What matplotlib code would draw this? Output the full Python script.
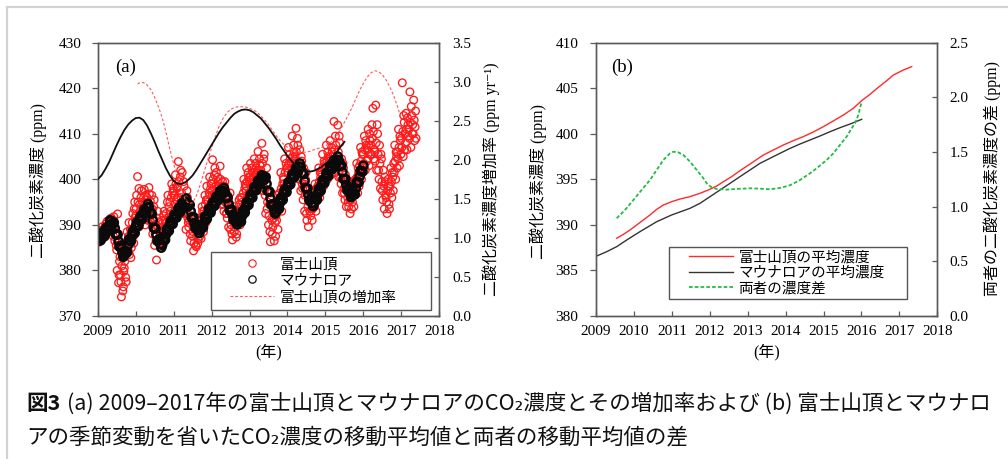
import numpy as np
import matplotlib
matplotlib.use("Agg")
import matplotlib.pyplot as plt
from matplotlib.lines import Line2D
from matplotlib.patches import Rectangle
from matplotlib.ticker import FormatStrFormatter

W, H = 1008, 459

SERIF = ["Liberation Serif", "Noto Sans CJK JP", "DejaVu Sans"]
SANS = ["Noto Sans CJK JP", "DejaVu Sans"]
plt.rcParams["font.family"] = SERIF

# ---------------------------------------------------------------- data
years = list(range(2009, 2019))

# Mt. Fuji summit CO2 (ppm): four samples per tenth of a year from 2009.0
fuji_2009 = [387.5, 386.2, 388.8, 387.0, 388.0, 389.6, 387.2, 388.9,
             389.5, 388.3, 390.8, 389.0, 390.2, 388.6, 391.5, 389.4,
             389.0, 391.8, 386.5, 388.2, 384.5, 392.4, 377.3, 382.0,
             379.0, 374.2, 383.5, 376.4, 380.5, 385.0, 377.5, 388.5,
             384.5, 390.5, 386.2, 382.8, 389.0, 392.5, 386.0, 395.0]
fuji_2010 = [392.0, 396.5, 400.6, 389.5, 394.5, 390.5, 397.5, 392.8,
             393.5, 397.8, 390.0, 395.5, 396.0, 391.0, 398.2, 393.8,
             392.5, 396.5, 388.0, 394.0, 385.5, 390.0, 382.3, 393.0,
             387.0, 390.5, 385.0, 388.5, 389.5, 386.0, 393.0, 391.0,
             392.5, 388.5, 396.5, 394.0, 395.0, 391.0, 399.0, 397.0]
fuji_2011 = [397.5, 393.0, 401.0, 395.5, 398.5, 403.9, 394.5, 400.5,
             396.0, 401.5, 392.5, 398.5, 393.5, 389.0, 397.5, 391.5,
             389.5, 394.5, 386.5, 392.0, 387.5, 384.3, 391.0, 389.0,
             385.2, 389.5, 386.8, 391.5, 390.0, 387.0, 394.0, 392.0,
             393.0, 396.5, 390.5, 398.5, 395.5, 392.5, 400.5, 398.0]
fuji_2012 = [399.0, 404.3, 395.0, 401.0, 397.0, 401.5, 395.0, 399.5,
             398.5, 402.9, 394.5, 396.5, 396.0, 393.0, 399.5, 397.5,
             392.5, 396.5, 389.5, 394.5, 389.0, 393.0, 386.7, 391.0,
             388.5, 392.0, 387.3, 390.5, 391.0, 395.5, 390.0, 393.5,
             396.0, 393.0, 400.0, 398.0, 398.5, 402.5, 396.0, 400.5]
fuji_2013 = [399.5, 403.5, 397.5, 401.5, 400.5, 404.5, 398.0, 402.5,
             401.5, 406.1, 398.5, 403.0, 402.0, 407.9, 397.5, 404.5,
             398.0, 392.5, 402.5, 395.0, 390.0, 394.5, 386.3, 397.0,
             388.0, 393.0, 386.5, 390.5, 392.0, 396.5, 389.0, 394.0,
             396.0, 401.5, 393.0, 399.0, 400.0, 404.5, 397.0, 402.5]
fuji_2014 = [402.5, 407.0, 399.5, 404.5, 403.5, 409.5, 400.5, 406.0,
             405.0, 411.2, 401.0, 407.5, 402.0, 406.5, 397.5, 404.0,
             398.0, 402.5, 393.0, 400.0, 392.5, 397.5, 389.6, 395.0,
             393.0, 396.5, 391.0, 394.5, 395.0, 399.0, 393.0, 397.0,
             398.5, 402.5, 396.0, 400.5, 401.5, 405.5, 398.5, 403.5]
fuji_2015 = [403.0, 407.5, 400.0, 405.0, 404.0, 408.5, 401.0, 406.0,
             405.0, 412.7, 401.5, 407.5, 404.5, 411.9, 400.5, 408.0,
             400.5, 404.5, 397.0, 402.5, 397.0, 401.0, 394.0, 399.5,
             395.0, 398.5, 392.5, 396.5, 396.0, 399.5, 394.0, 397.5,
             399.5, 403.5, 397.0, 401.5, 403.0, 407.0, 400.0, 405.5]
fuji_2016 = [405.5, 409.5, 402.0, 407.5, 406.5, 411.0, 403.0, 408.5,
             407.5, 412.0, 415.6, 404.5, 406.0, 416.3, 402.0, 410.0,
             402.0, 407.5, 398.0, 404.5, 397.5, 402.0, 393.5, 399.5,
             396.0, 392.5, 400.0, 394.5, 398.5, 402.5, 396.0, 400.5,
             403.5, 407.5, 400.0, 405.0, 406.0, 411.0, 403.0, 408.5]
fuji_2017 = [409.0, 421.2, 405.0, 412.5, 410.0, 414.5, 406.5, 412.0,
             411.0, 419.2, 407.0, 414.0, 412.0, 417.4, 408.5, 415.0]
fuji_co2 = (fuji_2009 + fuji_2010 + fuji_2011 + fuji_2012 + fuji_2013
            + fuji_2014 + fuji_2015 + fuji_2016 + fuji_2017)
fuji_time = 2009.0 + 0.025 * np.arange(len(fuji_co2))

# Mt. Fuji summit CO2 (ppm), interleaved samples (offset by half a step)
fuji_mid_2009 = [386.8, 388.2, 387.6, 388.6, 388.6, 387.6, 389.2, 388.2,
                 390.2, 389.0, 389.8, 388.6, 389.8, 390.8, 388.9, 390.4,
                 387.5, 390.5, 389.5, 385.5, 380.0, 386.0, 379.0, 383.0,
                 377.5, 381.0, 375.5, 379.8, 382.0, 378.5, 383.8, 386.5,
                 387.5, 383.5, 389.0, 385.0, 390.5, 387.5, 393.5, 391.5]
fuji_mid_2010 = [393.5, 391.0, 395.0, 398.0, 393.0, 396.0, 391.5, 395.0,
                 392.0, 394.8, 396.5, 391.5, 394.5, 392.0, 396.8, 395.2,
                 390.5, 393.5, 391.5, 395.5, 388.0, 386.5, 391.5, 389.5,
                 386.0, 389.5, 387.5, 391.0, 388.0, 392.0, 387.0, 390.5,
                 390.5, 395.0, 391.5, 389.5, 393.0, 396.0, 392.0, 398.0]
fuji_mid_2011 = [396.5, 394.5, 399.0, 398.0, 396.0, 399.5, 397.0, 402.0,
                 397.0, 394.0, 399.5, 395.5, 395.0, 392.5, 396.0, 390.5,
                 391.0, 388.0, 393.0, 390.5, 388.5, 386.0, 390.0, 385.5,
                 388.0, 386.0, 390.0, 387.5, 389.0, 391.0, 393.0, 388.5,
                 392.0, 394.5, 395.5, 391.5, 394.0, 397.0, 396.5, 399.0]
fuji_mid_2012 = [397.5, 400.0, 396.5, 402.5, 398.5, 396.0, 400.5, 398.0,
                 397.5, 400.0, 395.5, 399.5, 394.5, 398.5, 395.0, 392.5,
                 391.5, 395.5, 393.5, 397.0, 390.0, 388.0, 392.0, 394.0,
                 389.5, 391.0, 388.0, 393.0, 392.5, 394.5, 396.0, 391.5,
                 395.0, 397.0, 394.0, 399.0, 397.5, 399.5, 401.5, 397.0]
fuji_mid_2013 = [400.5, 398.5, 402.5, 400.0, 401.5, 399.5, 403.5, 401.0,
                 402.0, 400.0, 404.5, 399.5, 400.5, 403.5, 399.5, 405.5,
                 396.5, 400.0, 393.5, 397.5, 392.0, 388.5, 395.5, 391.0,
                 389.5, 391.5, 394.5, 387.5, 391.0, 393.0, 395.0, 397.0,
                 395.0, 398.0, 397.0, 400.5, 399.0, 401.5, 403.5, 398.5]
fuji_mid_2014 = [401.5, 403.5, 405.5, 400.5, 402.5, 405.0, 407.5, 404.0,
                 403.5, 406.0, 409.0, 402.5, 400.0, 403.0, 405.0, 399.0,
                 395.5, 399.0, 396.5, 401.5, 391.0, 394.0, 396.5, 393.0,
                 392.0, 395.5, 393.5, 397.0, 394.0, 396.0, 398.0, 395.5,
                 397.0, 399.5, 401.5, 397.5, 400.0, 402.5, 404.0, 399.5]
fuji_mid_2015 = [401.5, 404.0, 406.0, 402.5, 402.5, 405.0, 407.0, 403.5,
                 403.5, 406.5, 409.5, 404.5, 402.5, 406.0, 409.5, 403.0,
                 399.0, 401.5, 403.5, 398.0, 395.5, 398.0, 400.0, 396.0,
                 394.0, 397.5, 395.5, 393.5, 395.0, 398.5, 396.5, 400.0,
                 398.0, 400.5, 402.5, 398.5, 401.5, 404.0, 406.0, 402.0]
fuji_mid_2016 = [403.5, 406.5, 408.5, 404.0, 404.5, 407.5, 410.0, 405.5,
                 405.5, 409.0, 410.5, 406.5, 404.0, 408.0, 412.0, 405.5,
                 400.0, 403.5, 405.5, 399.5, 395.5, 398.5, 400.5, 396.5,
                 395.0, 397.5, 398.5, 393.5, 397.0, 399.5, 401.5, 397.5,
                 401.5, 404.0, 406.0, 402.5, 404.5, 407.0, 409.5, 405.5]
fuji_mid_2017 = [407.0, 410.5, 414.0, 406.5, 408.0, 411.0, 413.5, 409.5,
                 409.0, 412.5, 416.0, 410.0, 410.0, 413.0, 411.5, 409.0]
fuji_mid_co2 = (fuji_mid_2009 + fuji_mid_2010 + fuji_mid_2011
                + fuji_mid_2012 + fuji_mid_2013 + fuji_mid_2014
                + fuji_mid_2015 + fuji_mid_2016 + fuji_mid_2017)
fuji_mid_time = 2009.0125 + 0.025 * np.arange(len(fuji_mid_co2))

# Mauna Loa CO2 (ppm): one sample every 0.05 year from 2009.0
mlo_co2 = [
    386.5, 387.6, 387.0, 388.4, 388.0, 389.4, 389.8, 390.9, 390.4, 389.2,
    388.0, 386.4, 385.4, 384.0, 383.4, 383.8, 385.6, 386.6, 387.6, 388.3,
    389.6, 389.9, 391.0, 391.4, 392.6, 392.8, 393.8, 393.9, 392.6, 391.0,
    389.2, 387.8, 386.6, 385.8, 385.6, 386.8, 387.9, 388.8, 390.0, 390.4,
    391.3, 391.8, 392.8, 393.1, 393.9, 394.3, 395.0, 395.1, 394.4, 393.0,
    391.6, 390.4, 389.6, 389.0, 388.8, 389.6, 390.6, 391.6, 392.3, 393.2,
    393.6, 394.7, 395.0, 396.0, 396.3, 397.2, 397.5, 397.2, 396.0, 394.6,
    393.2, 392.2, 391.4, 390.9, 390.6, 390.8, 391.9, 392.8, 393.9, 394.6,
    395.6, 396.2, 397.3, 397.8, 398.8, 399.2, 400.0, 400.4, 400.5, 399.0,
    397.4, 395.8, 394.4, 393.4, 392.9, 393.6, 394.8, 395.6, 396.8, 397.4,
    398.4, 399.0, 400.1, 400.6, 401.6, 402.0, 402.8, 402.7, 401.4, 399.6,
    398.0, 396.6, 395.5, 394.8, 394.7, 395.6, 396.8, 397.6, 398.8, 399.4,
    400.4, 400.9, 401.9, 402.4, 403.3, 403.6, 404.3, 404.2, 403.0, 401.6,
    400.0, 398.8, 397.8, 397.0, 396.6, 396.8, 398.0, 399.4, 400.6, 401.8,
    403.0]
mlo_time = 2009.0 + 0.05 * np.arange(len(mlo_co2))

# Mauna Loa CO2 (ppm), interleaved samples at 2009.025 + 0.05 k
mlo_mid_co2 = [
    387.8, 386.6, 388.4, 387.5, 389.4, 388.9, 391.0, 390.0, 390.5, 387.9,
    387.9, 385.2, 385.4, 383.0, 384.3, 384.0, 386.8, 386.4, 388.6, 388.2,
    390.5, 389.8, 391.9, 391.3, 393.4, 392.6, 394.6, 392.6, 392.5, 389.4,
    389.2, 386.5, 386.9, 385.0, 386.9, 386.7, 389.1, 388.7, 390.9, 390.2,
    392.3, 391.6, 393.7, 392.8, 394.8, 394.0, 395.8, 394.0, 394.4, 391.6,
    391.7, 389.3, 390.0, 388.2, 389.9, 389.4, 391.8, 391.3, 393.5, 392.7,
    394.9, 394.2, 396.2, 395.5, 397.5, 396.7, 398.1, 395.9, 396.0, 393.2,
    393.4, 391.1, 391.9, 390.1, 391.4, 390.7, 393.1, 392.7, 395.0, 394.4,
    396.6, 396.0, 398.3, 397.6, 399.7, 398.9, 400.9, 399.8, 400.5, 397.5,
    397.3, 394.4, 394.6, 392.5, 394.0, 393.5, 395.9, 395.5, 397.8, 397.2,
    399.4, 398.9, 401.1, 400.4, 402.5, 401.7, 403.5, 401.4, 401.2, 398.1,
    398.0, 395.4, 395.9, 394.1, 395.9, 395.5, 397.9, 397.5, 399.8, 399.2,
    401.4, 400.7, 402.9, 402.2, 404.2, 403.3, 405.0, 402.9, 403.0, 400.1,
    400.1, 397.6, 398.1, 396.1, 397.4, 396.7, 399.4, 399.3, 401.9, 401.7]
mlo_mid_time = 2009.025 + 0.05 * np.arange(len(mlo_mid_co2))

# Mauna Loa growth rate (ppm/yr), every 0.1 year 2009.0-2015.5
mlo_rate_time = np.round(np.arange(2009.0, 2015.55, 0.1), 2)
mlo_rate = [1.75, 1.80, 1.88, 1.97, 2.08, 2.19, 2.29, 2.38, 2.45, 2.50,
            2.535, 2.54, 2.51, 2.44, 2.34, 2.23, 2.11, 2.00, 1.89, 1.80,
            1.73, 1.695, 1.69, 1.71, 1.75, 1.80, 1.87, 1.95, 2.03, 2.11,
            2.19, 2.27, 2.35, 2.42, 2.48, 2.54, 2.59, 2.62, 2.64, 2.645,
            2.635, 2.61, 2.57, 2.53, 2.47, 2.41, 2.34, 2.27, 2.19, 2.12,
            2.05, 1.99, 1.94, 1.90, 1.87, 1.855, 1.85, 1.86, 1.885, 1.91,
            1.95, 1.99, 2.04, 2.10, 2.17, 2.23]

# Mt. Fuji growth rate (ppm/yr)
fuji_rate_time = np.concatenate([[2010.05],
                                 np.round(np.arange(2010.1, 2016.95, 0.1), 2),
                                 [2016.95]])
fuji_rate = [2.97,
             2.985, 2.99, 2.96, 2.90, 2.80, 2.68, 2.54, 2.35, 2.14,
             1.95, 1.78, 1.62, 1.50, 1.44, 1.45, 1.54, 1.68, 1.84, 2.00,
             2.15, 2.30, 2.43, 2.53, 2.60, 2.645, 2.67, 2.68, 2.68, 2.675,
             2.66, 2.64, 2.61, 2.56, 2.51, 2.45, 2.38, 2.31, 2.25, 2.20,
             2.16, 2.13, 2.11, 2.10, 2.095, 2.10, 2.11, 2.13, 2.145, 2.16,
             2.18, 2.21, 2.25, 2.31, 2.39, 2.48, 2.57, 2.67, 2.78, 2.89,
             2.98, 3.06, 3.115, 3.14, 3.13, 3.09, 3.02, 2.93, 2.82, 2.68,
             2.60]

# Moving averages without the seasonal cycle (ppm)
fuji_mean_time = [2009.545, 2009.721, 2009.897, 2010.073, 2010.248, 2010.424,
                  2010.600, 2010.776, 2010.995, 2011.215, 2011.479, 2011.743,
                  2011.962, 2012.182, 2012.358, 2012.578, 2012.797, 2013.061,
                  2013.413, 2013.676, 2013.940, 2014.204, 2014.467, 2014.731,
                  2014.995, 2015.258, 2015.522, 2015.786, 2016.006, 2016.225,
                  2016.401, 2016.665, 2016.841, 2017.104, 2017.324]
fuji_mean = [388.53, 388.96, 389.44, 389.99, 390.54, 391.09, 391.71, 392.18,
             392.55, 392.84, 393.10, 393.47, 393.83, 394.27, 394.74, 395.30,
             395.95, 396.68, 397.67, 398.22, 398.77, 399.25, 399.69, 400.20,
             400.78, 401.41, 402.06, 402.80, 403.64, 404.33, 404.95, 405.83,
             406.45, 407.00, 407.37]
mlo_mean_time = [2009.0, 2009.281, 2009.545, 2009.809, 2010.160, 2010.600,
                 2010.995, 2011.479, 2011.743, 2012.006, 2012.270, 2012.534,
                 2012.797, 2013.061, 2013.325, 2013.588, 2013.852, 2014.116,
                 2014.380, 2014.643, 2014.907, 2015.171, 2015.434, 2015.698,
                 2016.006]
mlo_mean = [386.55, 387.06, 387.61, 388.34, 389.26, 390.35, 391.09, 391.82,
            392.37, 393.10, 393.83, 394.56, 395.30, 396.03, 396.76, 397.31,
            397.86, 398.40, 398.88, 399.32, 399.76, 400.23, 400.67, 401.07,
            401.59]
diff_time = [2009.545, 2009.765, 2009.985, 2010.204, 2010.424, 2010.600,
             2010.776, 2010.952, 2011.040, 2011.171, 2011.303, 2011.479,
             2011.655, 2011.831, 2011.919, 2012.050, 2012.182, 2012.446,
             2012.710, 2013.061, 2013.325, 2013.588, 2013.852, 2014.116,
             2014.380, 2014.643, 2014.819, 2015.083, 2015.259, 2015.434,
             2015.610, 2015.742, 2015.830, 2015.918, 2016.006]
diff_mean = [0.894, 0.970, 1.061, 1.153, 1.244, 1.336, 1.427, 1.488, 1.503,
             1.497, 1.473, 1.412, 1.336, 1.260, 1.214, 1.177, 1.162, 1.156,
             1.162, 1.168, 1.165, 1.159, 1.171, 1.196, 1.244, 1.305, 1.351,
             1.427, 1.488, 1.565, 1.641, 1.717, 1.763, 1.839, 1.961]

# ---------------------------------------------------------------- figure
fig = plt.figure(figsize=(W / 100, H / 100), dpi=100)
fig.patch.set_facecolor("white")


def px_axes(x0, y0, x1, y1):
    return fig.add_axes([x0 / W, 1 - y1 / H, (x1 - x0) / W, (y1 - y0) / H])


SPINE = "#5a5a5a"
RED = "#ff1a1a"


def style(ax, ax2, ylim, yticks, y2lim, y2ticks, lpad, rpad):
    ax.set_xlim(2009, 2018)
    ax.set_xticks(years)
    ax.set_ylim(*ylim)
    ax.set_yticks(yticks)
    ax2.set_ylim(*y2lim)
    ax2.set_yticks(y2ticks)
    ax2.yaxis.set_major_formatter(FormatStrFormatter("%.1f"))
    for a in (ax, ax2):
        for s in a.spines.values():
            s.set_color(SPINE)
            s.set_linewidth(1.0)
    ax.tick_params(axis="x", direction="in", length=3.6, width=0.9,
                   color=SPINE, pad=6.5, labelsize=11, labelcolor="black")
    ax.tick_params(axis="y", direction="out", length=4.2, width=0.9,
                   color=SPINE, pad=lpad, labelsize=11, labelcolor="black")
    ax2.tick_params(axis="y", direction="in", length=3.6, width=0.9,
                    color=SPINE, pad=rpad, labelsize=11, labelcolor="black")
    for lab in (ax.get_xticklabels() + ax.get_yticklabels()
                + ax2.get_yticklabels()):
        lab.set_fontfamily("Liberation Serif")


def boxed_legend(ax, handles, labels, box, anchor, spacing):
    ax.add_patch(Rectangle(box[:2], box[2], box[3], transform=ax.transAxes,
                           facecolor="white", edgecolor="#555555", lw=1.0,
                           zorder=8, clip_on=False))
    leg = ax.legend(handles, labels, loc="center left", bbox_to_anchor=anchor,
                    frameon=False, borderpad=0, borderaxespad=0,
                    handlelength=3.0, handletextpad=0.4, labelspacing=spacing,
                    prop={"family": SERIF, "size": 10.5})
    leg.set_zorder(9)
    return leg


# ---- panel (a)
ax_a = px_axes(97.7, 42.7, 439.3, 316)
ax_a2 = ax_a.twinx()
style(ax_a, ax_a2, (370, 430), range(370, 431, 10),
      (0, 3.5), np.arange(0, 3.51, 0.5), 7.5, 9.5)

ax_a.scatter(fuji_time, fuji_co2, s=30, facecolors="none",
             edgecolors=RED, linewidths=0.95, zorder=2)
ax_a.scatter(fuji_mid_time, fuji_mid_co2, s=30, facecolors="none",
             edgecolors=RED, linewidths=0.95, zorder=2)
ax_a.scatter(mlo_time, mlo_co2, s=34, facecolors="none",
             edgecolors="#0a0a0a", linewidths=1.8, zorder=3)
ax_a.scatter(mlo_mid_time, mlo_mid_co2, s=34, facecolors="none",
             edgecolors="#0a0a0a", linewidths=1.8, zorder=3)
ax_a2.plot(fuji_rate_time, fuji_rate, color="#ff5a5a", lw=0.8,
           ls=(0, (2.5, 1.8)), zorder=2)
ax_a2.plot(mlo_rate_time, mlo_rate, color="#111111", lw=1.3, zorder=3)
ax_a2.text(0.081, 0.911, "(a)", transform=ax_a2.transAxes, fontsize=13.5,
           ha="center", va="center")

h_fuji = Line2D([], [], ls="none", marker="o", ms=5.3, mfc="none",
                mec=RED, mew=0.8)
h_mlo = Line2D([], [], ls="none", marker="o", ms=5.3, mfc="none",
               mec="#111111", mew=0.9)
h_rate = Line2D([], [], color="#ff5a5a", lw=0.8, ls=(0, (2.5, 1.8)))
boxed_legend(ax_a2, [h_fuji, h_mlo, h_rate],
             ["富士山頂", "マウナロア", "富士山頂の増加率"],
             (0.3317, 0.022, 0.644, 0.212), (0.3873, 0.128), 0.22)

# ---- panel (b)
ax_b = px_axes(596, 42.7, 937.3, 316)
ax_b2 = ax_b.twinx()
style(ax_b, ax_b2, (380, 410), range(380, 411, 5),
      (0, 2.5), np.arange(0, 2.51, 0.5), 8.5, 9.0)

ax_b.plot(fuji_mean_time, fuji_mean, color="#ff2a2a", lw=1.0, zorder=3)
ax_b.plot(mlo_mean_time, mlo_mean, color="#333333", lw=1.0, zorder=3)
ax_b2.plot(diff_time, diff_mean, color="#22bb44", lw=1.3,
           ls=(0, (2.0, 1.2)), zorder=3)
ax_b2.text(0.0776, 0.911, "(b)", transform=ax_b2.transAxes, fontsize=13.5,
           ha="center", va="center")

h_fm = Line2D([], [], color="#ff2a2a", lw=1.0)
h_mm = Line2D([], [], color="#333333", lw=1.0)
h_df = Line2D([], [], color="#22bb44", lw=1.3, ls=(0, (2.0, 1.2)))
boxed_legend(ax_b2, [h_fm, h_mm, h_df],
             ["富士山頂の平均濃度", "マウナロアの平均濃度", "両者の濃度差"],
             (0.2139, 0.0622, 0.6973, 0.1903), (0.2725, 0.1573), 0.12)


# ---- axis titles
def ftext(x, y, s, **kw):
    return fig.text(x / W, 1 - y / H, s, ha="center", va="center", **kw)


ftext(38.5, 180, "二酸化炭素濃度 (ppm)", rotation=90, fontsize=11.5)
ftext(491, 179, "二酸化炭素濃度増加率 (ppm yr⁻¹)", rotation=90, fontsize=11.5)
ftext(268.5, 352, "(年)", fontsize=11.5)
ftext(538.5, 181, "二酸化炭素濃度 (ppm)", rotation=90, fontsize=11.5)
ftext(992.5, 179, "両者の二酸化炭素濃度の差 (ppm)", rotation=90, fontsize=11.5)
ftext(766.6, 352, "(年)", fontsize=11.5)

# ---- light frame around the chart area
frame_kw = dict(transform=fig.transFigure, color="#d2d2d2", lw=1.6)
fig.add_artist(Line2D([7 / W, 7 / W], [0, 1 - 7 / H], **frame_kw))
fig.add_artist(Line2D([7 / W, 1], [1 - 7 / H, 1 - 7 / H], **frame_kw))

# ---- caption
cap_size = 14
y1, y2 = 1 - 404 / H, 1 - 437 / H
cap_num = fig.text(26 / W, y1, "図3", family=SANS, fontweight="bold",
                   fontsize=cap_size, va="center", color="#111111")
cap_l1 = fig.text(66.7 / W, y1,
                  "(a) 2009–2017年の富士山頂とマウナロアのCO₂濃度とその増加率および "
                  "(b) 富士山頂とマウナロ",
                  family=SANS, fontsize=cap_size, va="center", color="#111111")
cap_l2 = fig.text(26 / W, y2,
                  "アの季節変動を省いたCO₂濃度の移動平均値と両者の移動平均値の差",
                  family=SANS, fontsize=cap_size, va="center", color="#111111")
fig.canvas.draw()
renderer = fig.canvas.get_renderer()
width = cap_l1.get_window_extent(renderer).width
fitted = cap_size * (995 - 66.7) / width
for t in (cap_num, cap_l1, cap_l2):
    t.set_fontsize(fitted)

fig.savefig("out.png", dpi=100, facecolor="white")
